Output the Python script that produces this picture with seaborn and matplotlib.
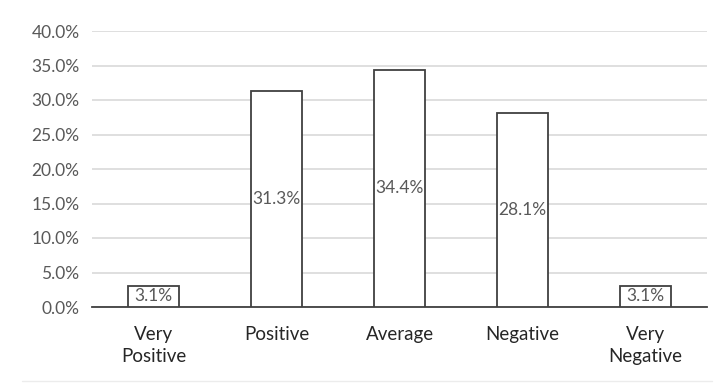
import matplotlib
matplotlib.use("Agg")
import matplotlib.pyplot as plt
import seaborn as sns
import pandas as pd
from matplotlib.ticker import PercentFormatter

categories = ["Very\nPositive", "Positive", "Average", "Negative", "Very\nNegative"]
shares = [3.1, 31.3, 34.4, 28.1, 3.1]
yticks = [0, 5, 10, 15, 20, 25, 30, 35, 40]

df = pd.DataFrame({"category": categories, "share": shares})

sns.set_theme(style="white")
plt.rcParams["font.family"] = ["Lato", "DejaVu Sans"]

fig = plt.figure(figsize=(7.19, 3.87), dpi=100)
ax = fig.add_axes([92 / 719, 1 - 307 / 387, 615 / 719, (307 - 31) / 387])

sns.barplot(data=df, x="category", y="share", ax=ax, width=0.41,
            color="white", edgecolor="#404040", linewidth=1.3, zorder=3)

ax.set_ylim(0, 40)
ax.set_xlim(-0.5, len(categories) - 0.5)
ax.set_yticks(yticks)
ax.yaxis.set_major_formatter(PercentFormatter(decimals=1))
ax.grid(axis="y", color="#d9d9d9", linewidth=1.2, zorder=0)
ax.set_axisbelow(True)
for side in ["top", "right", "left"]:
    ax.spines[side].set_visible(False)
ax.spines["bottom"].set_color("#404040")
ax.spines["bottom"].set_linewidth(1.3)
ax.tick_params(axis="y", length=0, pad=9, labelsize=12.5, labelcolor="#595959")
ax.tick_params(axis="x", length=0, pad=14, labelsize=13.5, labelcolor="#262626")
for lbl in ax.get_xticklabels():
    lbl.set_linespacing(1.35)
ax.set_xlabel("")
ax.set_ylabel("")

for i, v in enumerate(shares):
    ax.text(i, v / 2, f"{v:.1f}%", ha="center", va="center",
            fontsize=12.5, color="#595959", zorder=4)

fig.add_artist(plt.Line2D([0.03, 0.99], [1 - 381 / 387] * 2,
                          color="#ececec", linewidth=1))

fig.savefig("out.png", dpi=100, facecolor="white")
